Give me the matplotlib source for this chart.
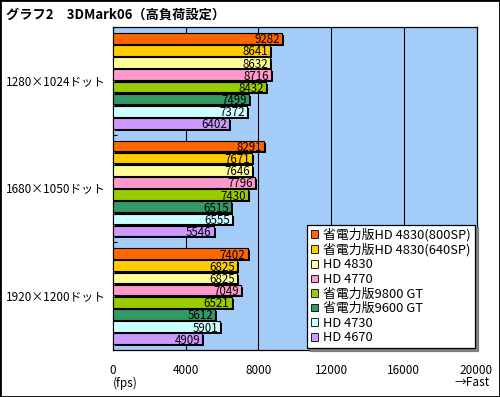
import numpy as np
import matplotlib
matplotlib.use("Agg")
import matplotlib.pyplot as plt
import matplotlib.transforms as mtransforms
from matplotlib.patches import Patch, Rectangle

plt.rcParams['font.family'] = ['Noto Sans CJK JP', 'DejaVu Sans']

# Données
categories = ['1280×1024ドット', '1680×1050ドット', '1920×1200ドット']
series_names = ['省電力版HD 4830(800SP)', '省電力版HD 4830(640SP)', 'HD 4830', 'HD 4770',
                '省電力版9800 GT', '省電力版9600 GT', 'HD 4730', 'HD 4670']
values = [
    [9282, 8291, 7402],
    [8641, 7671, 6825],
    [8632, 7646, 6825],
    [8716, 7796, 7049],
    [8432, 7430, 6521],
    [7499, 6515, 5612],
    [7372, 6555, 5901],
    [6402, 5546, 4909],
]
colors = ['#ff6600', '#ffcc00', '#ffff99', '#ff99cc', '#99cc00', '#339966', '#ccffff', '#cc99ff']
xticks = [0, 4000, 8000, 12000, 16000, 20000]

W, H = 500, 397
fig = plt.figure(figsize=(W / 100, H / 100), dpi=100)
ax = fig.add_axes([113 / W, (H - 350) / H, 363.5 / W, 323 / H])
ax.set_facecolor('#a3cdf8')
ax.set_xlim(0, 20000)
ax.set_ylim(3, 0)

# grille verticale
for xv in xticks[1:-1]:
    ax.axvline(xv, color='black', lw=0.8, zorder=1)

step, bh = 0.113, 0.099
n = len(series_names)
shadow_tr = ax.transData + mtransforms.ScaledTranslation(2 / 100, -2 / 100, fig.dpi_scale_trans)
for j, (name, vals, c) in enumerate(zip(series_names, values, colors)):
    ys = np.arange(len(categories)) + 0.5 + (j - (n - 1) / 2) * step
    ax.barh(ys, vals, height=bh, color='black', transform=shadow_tr, zorder=2)
    ax.barh(ys, vals, height=bh, color=c, edgecolor='black', lw=0.8, zorder=3, label=name)
    for y, v in zip(ys, vals):
        ax.annotate(str(v), (v, y), xytext=(-1.5, 0), textcoords='offset points',
                    ha='right', va='center_baseline', fontsize=8.3, zorder=4)

ax.set_xticks(xticks)
ax.set_xticklabels([str(t) for t in xticks], fontsize=8.5)
ax.tick_params(axis='x', length=0, pad=10)
ax.set_yticks([1, 2])
ax.set_yticklabels([])
ax.tick_params(axis='y', direction='in', length=3, color='black')
for s in ax.spines.values():
    s.set_color('black')
    s.set_linewidth(0.9)

blend = mtransforms.blended_transform_factory(fig.transFigure, ax.transData)
for i, cat in enumerate(categories):
    ax.text(6 / W, i + 0.5, cat, transform=blend, ha='left', va='center_baseline', fontsize=8.5)

fig.text(6 / W, 1 - 15 / H, 'グラフ2　3DMark06（高負荷設定）', fontsize=9.5,
         fontweight='bold', ha='left', va='center')
fig.text(113 / W, 1 - 383 / H, '(fps)', fontsize=8.5, ha='left', va='center')
fig.text(490 / W, 1 - 383 / H, '→Fast', fontsize=8.5, ha='right', va='center')

handles = [Patch(facecolor=c, edgecolor='black', lw=0.6) for c in colors]
leg = ax.legend(handles, series_names, loc='lower right', bbox_to_anchor=(0.996, 0.006),
                borderaxespad=0, fontsize=9.3, frameon=True, fancybox=False,
                handlelength=0.55, handleheight=0.55, handletextpad=0.4,
                labelspacing=0.12, borderpad=0.3,
                shadow={'color': '#808080', 'alpha': 1.0})
leg.get_frame().set_edgecolor('black')
leg.get_frame().set_linewidth(0.9)
leg.get_frame().set_alpha(1)
leg.set_zorder(10)

fig.patches.append(Rectangle((0, 0), 1, 1, transform=fig.transFigure, fill=False,
                             edgecolor='black', lw=2, zorder=20))

fig.savefig('out.png', dpi=100)
